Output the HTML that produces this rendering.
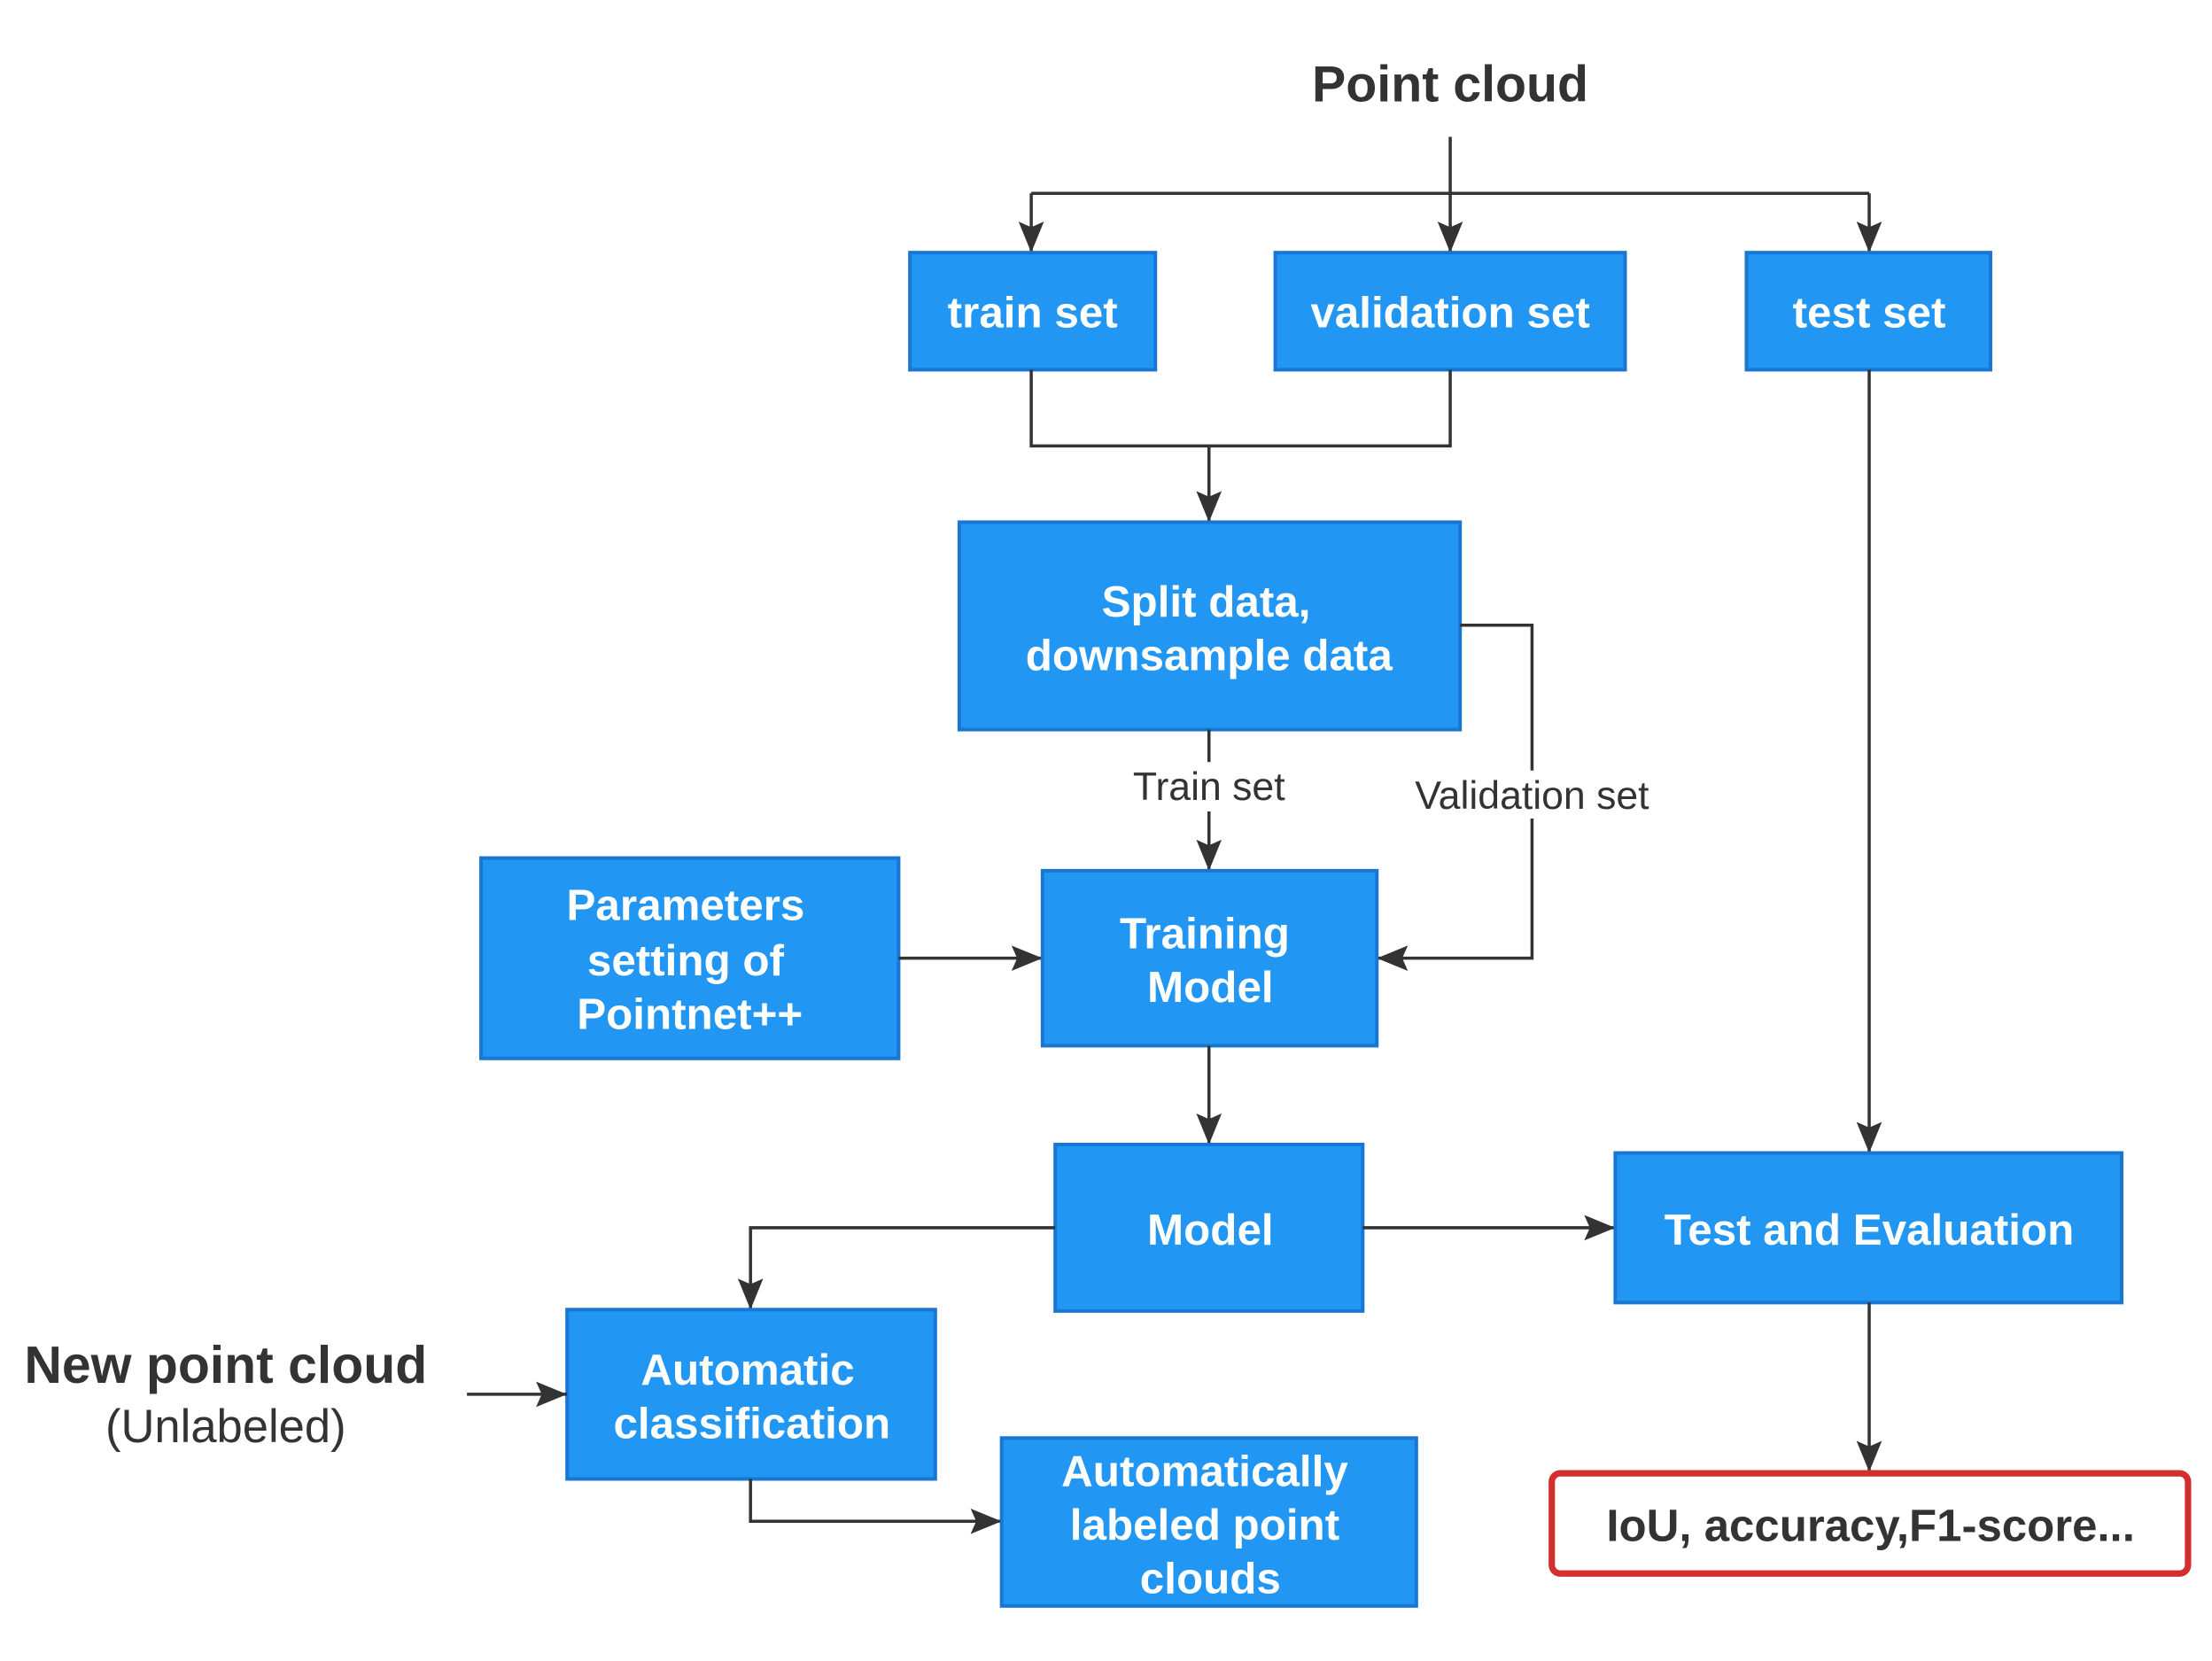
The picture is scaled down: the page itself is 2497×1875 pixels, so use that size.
<!DOCTYPE html>
<html><head><meta charset="utf-8"><style>
html,body{margin:0;padding:0;background:#fff;}
svg{display:block;}
.b{fill:#2196F3;stroke:#1976D2;stroke-width:2.5;}
.t{fill:#fff;font-family:"Liberation Sans",sans-serif;font-weight:bold;font-size:31px;text-anchor:middle;}
.l{stroke:#333;stroke-width:2.2;fill:none;}
.d{fill:#333;font-family:"Liberation Sans",sans-serif;text-anchor:middle;}
</style></head><body>
<svg width="2497" height="1875" viewBox="0 0 1568 1177" preserveAspectRatio="none" xmlns="http://www.w3.org/2000/svg">
<defs>
<marker id="ah" markerWidth="22" markerHeight="18" refX="22" refY="9" orient="auto" markerUnits="userSpaceOnUse"><path d="M0,0 L22,9 L0,18 L4,9 Z" fill="#333"/></marker></defs>
<text class="d" x="1028" y="72" font-size="36" font-weight="bold">Point cloud</text>
<path class="l" d="M1028,97 V137 M731,137 H1325"/>
<path class="l" d="M731,137 V179" marker-end="url(#ah)"/>
<path class="l" d="M1028,137 V179" marker-end="url(#ah)"/>
<path class="l" d="M1325,137 V179" marker-end="url(#ah)"/>
<rect class="b" x="645" y="179" width="174" height="83"/><text class="t" x="732" y="232">train set</text>
<rect class="b" x="904" y="179" width="248" height="83"/><text class="t" x="1028" y="232">validation set</text>
<rect class="b" x="1238" y="179" width="173" height="83"/><text class="t" x="1325" y="232">test set</text>
<path class="l" d="M731,262 V316 H1028 V262"/>
<path class="l" d="M857,316 V370" marker-end="url(#ah)"/>
<rect class="b" x="680" y="370" width="355" height="147"/><text class="t" x="855" y="437">Split data,</text><text class="t" x="857" y="475">downsample data</text>
<path class="l" d="M1035,443 H1086 V546 M1086,580 V679 H976" marker-end="url(#ah)"/>
<text class="d" x="1086" y="573" font-size="28">Validation set</text>
<path class="l" d="M857,517 V540"/>
<path class="l" d="M857,575 V617" marker-end="url(#ah)"/>
<text class="d" x="857" y="567" font-size="28">Train set</text>
<rect class="b" x="341" y="608" width="296" height="142"/><text class="t" x="486" y="652">Parameters</text><text class="t" x="486" y="691">setting of</text><text class="t" x="489" y="729">Pointnet++</text>
<path class="l" d="M637,679 H739" marker-end="url(#ah)"/>
<rect class="b" x="739" y="617" width="237" height="124"/><text class="t" x="854" y="672">Training</text><text class="t" x="858" y="710">Model</text>
<path class="l" d="M857,741 V811" marker-end="url(#ah)"/>
<rect class="b" x="748" y="811" width="218" height="118"/><text class="t" x="858" y="882">Model</text>
<path class="l" d="M966,870 H1145" marker-end="url(#ah)"/>
<path class="l" d="M1325,262 V817" marker-end="url(#ah)"/>
<rect class="b" x="1145" y="817" width="359" height="106"/><text class="t" x="1325" y="882">Test and Evaluation</text>
<path class="l" d="M1325,923 V1043" marker-end="url(#ah)"/>
<rect x="1100" y="1044" width="451" height="71" rx="6" fill="#fff" stroke="#D32F2F" stroke-width="4.5"/>
<text class="d" x="1326" y="1092" font-size="32" font-weight="bold">IoU, accuracy,F1-score...</text>
<path class="l" d="M748,870 H532 V928" marker-end="url(#ah)"/>
<rect class="b" x="402" y="928" width="261" height="120"/><text class="t" x="530" y="981">Automatic</text><text class="t" x="533" y="1019">classification</text>
<text class="d" x="160" y="980" font-size="37" font-weight="bold">New point cloud</text>
<text class="d" x="160" y="1022" font-size="33">(Unlabeled)</text>
<path class="l" d="M331,988 H402" marker-end="url(#ah)"/>
<path class="l" d="M532,1048 V1078 H710" marker-end="url(#ah)"/>
<rect class="b" x="710" y="1019" width="294" height="119"/><text class="t" x="854" y="1053">Automatically</text><text class="t" x="854" y="1091">labeled point</text><text class="t" x="858" y="1129">clouds</text>
</svg>
</body></html>
